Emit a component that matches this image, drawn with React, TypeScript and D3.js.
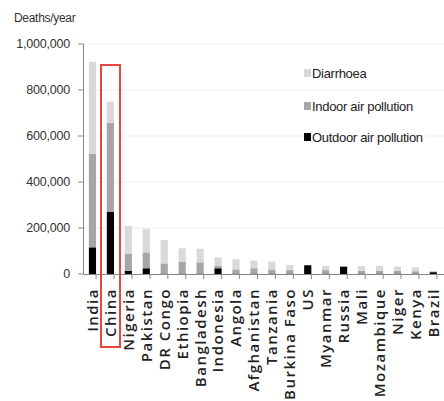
import React from "react";
import * as d3 from "d3";

const countries = ["India","China","Nigeria","Pakistan","DR Congo","Ethiopia","Bangladesh","Indonesia","Angola","Afghanistan","Tanzania","Burkina Faso","US","Myanmar","Russia","Mali","Mozambique","Niger","Kenya","Brazil"];
const outdoor = [116000,271000,14000,25000,2000,2000,2000,25000,2000,2000,2000,2000,38000,2000,32000,2000,2000,2000,2000,8000];
const indoor = [406000,387000,73000,69000,44000,52000,49000,10000,18000,23000,18000,15000,0,15000,0,12000,12000,12000,10000,3000];
const diarrhoea = [401000,91000,122000,103000,102000,58000,59000,37000,44000,33000,34000,22000,0,18000,0,21000,21000,18000,17000,3000];
const yTicks = [0,200000,400000,600000,800000,1000000];
const seriesNames = ["Outdoor air pollution","Indoor air pollution","Diarrhoea"];
const seriesColors = ["#000000","#a6a6a6","#d9d9d9"];

export default function App() {
  const W = 444, H = 401;
  const y = d3.scaleLinear().domain([0, 1000000]).range([274, 44]);
  const x = d3.scaleBand().domain(countries).range([83.5, 442.3]).paddingInner(0.6).paddingOuter(0.3);
  const rows = countries.map((c, i) => ({ c, o: outdoor[i], n: indoor[i], d: diarrhoea[i] }));
  const stack = d3.stack<any>().keys(["o","n","d"])(rows);
  const fmt = d3.format(",");
  const step = x.step();
  const font = "'Liberation Sans', Arial, sans-serif";
  const legendOrder = [2, 1, 0];
  const legendY = [73, 106, 137];
  return (
    <svg width={W} height={H} style={{ position: "absolute", left: 0, top: 0, background: "#fff" }} fontFamily={font}>
      <rect width={W} height={H} fill="#fff" />
      {yTicks.slice(1).map(t => (
        <line key={"g"+t} x1={84} x2={W} y1={y(t)} y2={y(t)} stroke="#efefef" strokeWidth={1} />
      ))}
      {stack.map((s, si) => (
        <g key={si} fill={seriesColors[si]}>
          {s.map((p, i) => (
            <rect key={i} x={x(countries[i])} width={x.bandwidth()} y={y(p[1])} height={Math.max(0, y(p[0]) - y(p[1]))} />
          ))}
        </g>
      ))}
      <line x1={83.5} x2={83.5} y1={44} y2={274} stroke="#888" />
      {yTicks.map(t => (
        <g key={t}>
          <line x1={78} x2={83.5} y1={y(t)} y2={y(t)} stroke="#888" />
          <text x={70} y={y(t)} dy="0.35em" textAnchor="end" fontSize={12.5} fill="#333" letterSpacing={-0.2}>{fmt(t)}</text>
        </g>
      ))}
      <line x1={83.5} x2={W} y1={274.5} y2={274.5} stroke="#888" />
      {countries.map((c, i) => (
        <line key={"t"+c} x1={83.5 + (i+1) * step - step*0.3} x2={83.5 + (i+1) * step - step*0.3} y1={274.5} y2={279} stroke="#888" />
      ))}
      {countries.map(c => {
        const cx = (x(c) as number) + x.bandwidth() / 2;
        return (
          <text key={c} transform={`translate(${cx},288) rotate(-90)`} dy="0.36em" textAnchor="end" fontSize={15} fontWeight={600} fill="#222" letterSpacing={1.5} fontFamily="'Open Sans', sans-serif">{c}</text>
        );
      })}
      <text x={14} y={22} fontSize={12} fill="#333" letterSpacing={-0.3}>Deaths/year</text>
      {legendOrder.map((si, k) => (
        <g key={si}>
          <rect x={304} y={legendY[k] - 4} width={7} height={8} fill={seriesColors[si]} />
          <text x={312} y={legendY[k]} dy="0.35em" fontSize={13} fill="#222" letterSpacing={-0.3}>{seriesNames[si]}</text>
        </g>
      ))}
      <rect x={101} y={65} width={19} height={282} fill="none" stroke="#e8453c" strokeWidth={2} />
    </svg>
  );
}
